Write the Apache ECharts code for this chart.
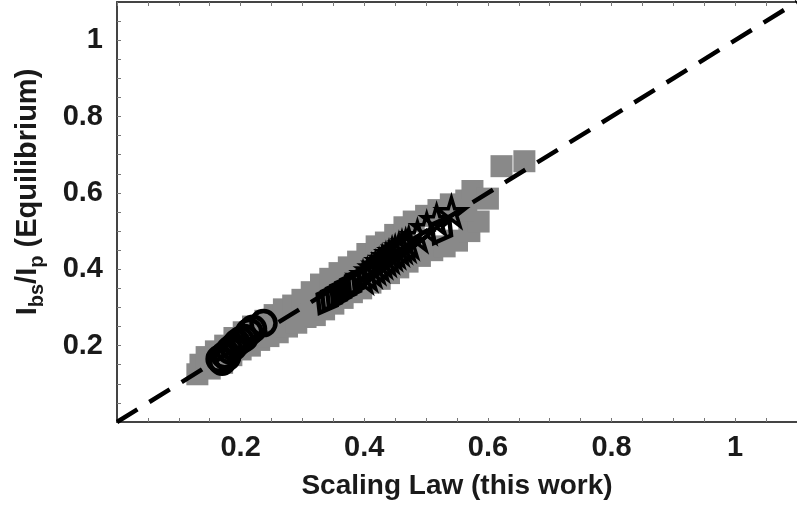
<!DOCTYPE html>
<html>
<head>
<meta charset="utf-8">
<script src="https://cdn.jsdelivr.net/npm/echarts@6/dist/echarts.min.js"></script>
<style>
html,body{margin:0;padding:0;background:#fff;}
#c{width:797px;height:515px;}
</style>
</head>
<body>
<div id="c"></div>
<script>
// ---- data ----
var squares = [
  [0.13,0.125],[0.135,0.15],[0.145,0.17],[0.15,0.14],[0.16,0.185],[0.17,0.155],
  [0.175,0.2],[0.185,0.175],[0.19,0.22],[0.2,0.19],[0.205,0.235],[0.215,0.2],
  [0.22,0.25],[0.23,0.215],[0.24,0.265],[0.245,0.225],[0.255,0.28],[0.26,0.235],
  [0.27,0.295],[0.275,0.25],[0.285,0.305],[0.29,0.26],[0.3,0.32],[0.305,0.275],
  [0.315,0.34],[0.32,0.28],[0.33,0.36],[0.335,0.295],[0.345,0.375],[0.35,0.31],
  [0.36,0.39],[0.365,0.325],[0.375,0.405],[0.38,0.34],[0.39,0.42],[0.395,0.35],
  [0.405,0.44],[0.41,0.365],[0.42,0.46],[0.425,0.375],[0.435,0.47],[0.44,0.39],
  [0.45,0.49],[0.455,0.405],[0.465,0.51],[0.47,0.42],[0.48,0.525],[0.49,0.435],
  [0.5,0.54],[0.51,0.45],[0.52,0.555],[0.53,0.46],[0.54,0.57],[0.55,0.475],
  [0.565,0.58],[0.57,0.5],[0.575,0.605],[0.585,0.525],[0.6,0.585],[0.56,0.555],
  [0.622,0.67],[0.659,0.683]
];
var circles = [
  [0.166,0.165],[0.17,0.158],[0.174,0.175],[0.178,0.17],[0.182,0.188],[0.188,0.196],
  [0.194,0.207],[0.2,0.214],[0.206,0.22],[0.214,0.236],[0.22,0.244],[0.237,0.259]
];
var diamonds = [
  [0.34,0.32],[0.347,0.327],[0.355,0.335],[0.362,0.342],[0.37,0.35],[0.378,0.358],
  [0.386,0.368],[0.525,0.503]
];
var stars = [
  [0.398,0.378],[0.405,0.385],[0.412,0.395],[0.418,0.403],[0.424,0.41],[0.429,0.419],
  [0.435,0.425],[0.44,0.432],[0.445,0.44],[0.45,0.445],[0.456,0.452],[0.461,0.458],
  [0.467,0.462],[0.472,0.469],[0.486,0.487],[0.501,0.508],[0.517,0.529],[0.541,0.55]
];
var identityLine = [[0,0],[1.1,1.1]];
var xTickValues = [0.2,0.4,0.6,0.8,1];
var xTickLabels = ['0.2','0.4','0.6','0.8','1'];
var yTickValues = [0.2,0.4,0.6,0.8,1];
var yTickLabels = ['0.2','0.4','0.6','0.8','1'];
var xTitle = 'Scaling Law (this work)';

// ---- chart ----
var FONT = '"Liberation Sans", Arial, Helvetica, sans-serif';
var TXT = '#1a1a1a';
function fmt(vals, labs){
  return function(v){
    for (var i=0;i<vals.length;i++){ if (Math.abs(vals[i]-v)<1e-6) return labs[i]; }
    return '';
  };
}
var starPath = 'path://M50,0 L61,35 L98,35 L68,57 L79,91 L50,70 L21,91 L32,57 L2,35 L39,35 Z';
var axisLine = {show:true, lineStyle:{color:'#444', width:2}};
var tick = {show:true, inside:true, length:4, lineStyle:{color:'#777', width:1}};
var chart = echarts.init(document.getElementById('c'), null, {renderer:'canvas'});
chart.setOption({
  animation:false,
  backgroundColor:'#fff',
  grid:{left:117, right:-8, top:2, bottom:93, containLabel:false},
  xAxis:[{
    type:'value', min:0, max:1.1, interval:0.05, position:'bottom',
    axisLine:axisLine, axisTick:tick, splitLine:{show:false},
    axisLabel:{formatter:fmt(xTickValues,xTickLabels), margin:11, fontSize:29, fontWeight:'bold', fontFamily:FONT, color:TXT, showMinLabel:false, showMaxLabel:false},
    name:xTitle, nameLocation:'middle', nameGap:50,
    nameTextStyle:{fontSize:28, fontWeight:'bold', fontFamily:FONT, color:TXT}
  },{
    type:'value', min:0, max:1.1, interval:0.05, position:'top',
    axisLine:axisLine, axisTick:tick, splitLine:{show:false}, axisLabel:{show:false}
  }],
  yAxis:[{
    type:'value', min:0, max:1.1, interval:0.05, position:'left',
    axisLine:axisLine, axisTick:tick, splitLine:{show:false},
    axisLabel:{formatter:fmt(yTickValues,yTickLabels), margin:14, fontSize:29, fontWeight:'bold', fontFamily:FONT, color:TXT, showMinLabel:false, showMaxLabel:false},
    name:'{m|I}{s|bs}{m|/I}{s|p}{m| (Equilibrium)}', nameLocation:'middle', nameGap:70, nameRotate:90,
    nameTextStyle:{
      color:TXT, padding:[0,0,0,40],
      rich:{
        m:{fontSize:29, fontWeight:'bold', fontFamily:FONT, color:TXT, lineHeight:39, verticalAlign:'middle'},
        s:{fontSize:20, fontWeight:'bold', fontFamily:FONT, color:TXT, lineHeight:20, verticalAlign:'bottom'}
      }
    }
  }],
  series:[
    {type:'scatter', name:'squares', data:squares, symbol:'rect', symbolSize:22,
     itemStyle:{color:'#898989', opacity:1}, z:2},
    {type:'line', name:'identity', data:identityLine, showSymbol:false, symbol:'none', clip:true,
     lineStyle:{color:'#000', width:4.5, type:[24,14]}, z:3},
    {type:'scatter', name:'circles', data:circles, symbol:'circle', symbolSize:24,
     itemStyle:{color:'rgba(0,0,0,0)', borderColor:'#000', borderWidth:4.5, opacity:1}, z:4},
    {type:'scatter', name:'diamonds', data:diamonds, symbol:'diamond', symbolSize:[22,30], symbolRotate:-30,
     itemStyle:{color:'rgba(0,0,0,0)', borderColor:'#000', borderWidth:4.5, opacity:1}, z:4},
    {type:'scatter', name:'stars', data:stars, symbol:starPath, symbolSize:28,
     itemStyle:{color:'rgba(0,0,0,0)', borderColor:'#000', borderWidth:3.5, opacity:1}, z:5}
  ]
});
</script>
</body>
</html>
